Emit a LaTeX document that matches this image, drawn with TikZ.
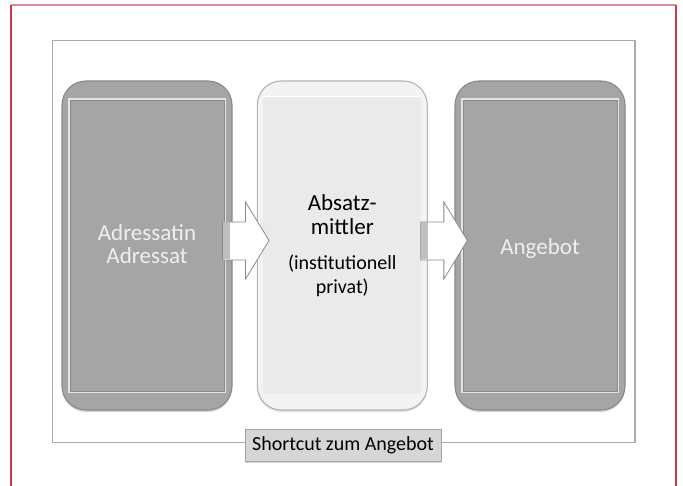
\documentclass[tikz,border=0pt]{standalone}
\usepackage{fontspec}
\setmainfont{Carlito}
\usetikzlibrary{shadows,calc}
\definecolor{redframe}{HTML}{C83A50}
\definecolor{redtop}{HTML}{DC8C98}
\definecolor{outerframe}{HTML}{ABABAB}
\definecolor{darkfill}{HTML}{A5A5A5}
\definecolor{darkedge}{HTML}{8A8A8A}
\definecolor{lightfill}{HTML}{F3F3F3}
\definecolor{lightinner}{HTML}{EAEAEA}
\definecolor{lightedge}{HTML}{B3B3B3}
\definecolor{boxtext}{HTML}{EFEFEF}
\definecolor{labelfill}{HTML}{D6D6D6}
\definecolor{labeledge}{HTML}{A2A2A2}
\begin{document}
\begin{tikzpicture}[x=1pt,y=-1pt,
  darkbox/.style={rounded corners=24pt, fill=darkfill, draw=darkedge, line width=1.1pt,
    minimum width=170pt, minimum height=329pt, inner sep=0pt, align=center,
    text=boxtext, font=\fontsize{23}{23.5}\selectfont,
    drop shadow={opacity=0.35, shadow xshift=0pt, shadow yshift=-2pt},
    path picture={
      \draw[sharp corners, draw=white!70!darkfill, line width=1.4pt]
        ($(path picture bounding box.north west)+(7,18)$) rectangle ($(path picture bounding box.south east)+(-7,-18)$);
      \draw[sharp corners, draw=darkedge, line width=0.6pt]
        ($(path picture bounding box.north west)+(8,19)$) rectangle ($(path picture bounding box.south east)+(-8,-19)$);
    }},
  lightbox/.style={rounded corners=24pt, fill=lightfill, draw=lightedge, line width=1.1pt,
    minimum width=170pt, minimum height=329pt, inner sep=0pt, align=center,
    text=black, font=\fontsize{23}{24}\selectfont,
    drop shadow={opacity=0.25, shadow xshift=0pt, shadow yshift=-2pt},
    path picture={
      \fill[sharp corners, lightinner]
        ($(path picture bounding box.north west)+(6,16)$) rectangle ($(path picture bounding box.south east)+(-6,-16)$);
      \draw[sharp corners, draw=white, line width=1pt]
        ($(path picture bounding box.north west)+(6,16)$) -- ($(path picture bounding box.north east)+(-6,16)$);
    }},
  labelbox/.style={fill=labelfill, draw=labeledge, line width=1pt, minimum width=196pt,
    minimum height=32pt, inner sep=0pt, font=\fontsize{20}{22}\selectfont,
    drop shadow={opacity=0.3, shadow xshift=0pt, shadow yshift=-1.5pt}},
  blockarrow/.style={fill=white, draw=darkedge, line width=0.8pt, line join=miter},
  stripfill/.style={fill=black!25, draw=none},
]
\useasboundingbox (0,0) rectangle (683,486);
% red frame
\draw[redtop, line width=1.3pt] (11,5) -- (676,5);
\draw[redframe, line width=1.2pt] (11,5) -- (11,486);
\draw[redframe, line width=1.2pt] (676,5) -- (676,486);
% outer gray frame
\draw[outerframe, line width=1.3pt] (52.7,40.5) rectangle (635,442.7);
% boxes
\node[darkbox] (adr) at (147,245.5) {\raisebox{-2pt}[\height][\depth]{\begin{tabular}{@{}c@{}}Adressatin\\[-0.5pt]Adressat\end{tabular}}};
\node[lightbox] (mid) at (342.3,245.5) {Absatz-\\mittler\\[11pt]{\fontsize{20}{24}\selectfont (institutionell}\\{\fontsize{20}{24}\selectfont privat)}};
\node[darkbox] (ang) at (540,245.5) {\raisebox{-3pt}[\height][\depth]{Angebot}};
% block arrows (connectors)
\coordinate (a1) at ($(adr.east)+(13,0)$);
\coordinate (a2) at ($(mid.east)+(16,0)$);
\foreach \c in {a1,a2}{
  \draw[blockarrow, shift={(\c)}] (-23,-23.5) -- (0,-23.5) -- (0,-43.5) -- (23.5,-5) -- (0,33.5) -- (0,14.5) -- (-23,14.5) -- cycle;
  \fill[stripfill, shift={(\c)}] (-22.5,-23) rectangle (-16,14);
}
% label
\node[labelbox] (sc) at (343,445) {Shortcut zum Angebot};
\end{tikzpicture}
\end{document}
